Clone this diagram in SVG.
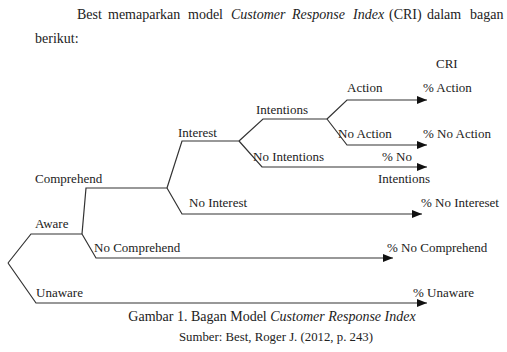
<svg xmlns="http://www.w3.org/2000/svg" width="507" height="352" viewBox="0 0 507 352">
<style>
text{font-family:"Liberation Serif","Times New Roman",serif;font-size:13px;fill:#222}
.big{font-size:14px}
.it{font-style:italic}
.ln{fill:none;stroke:#333;stroke-width:1.2}
</style>
<defs>
<marker id="ah" markerWidth="10" markerHeight="8" refX="10" refY="4" orient="auto" markerUnits="userSpaceOnUse">
<path d="M0,0 L10,4 L0,8 Z" fill="#111"/>
</marker>
</defs>
<rect width="507" height="352" fill="#fff"/>
<g id="intro">
<text class="big" y="19"><tspan x="77">Best</tspan><tspan x="108">memaparkan</tspan><tspan x="188">model</tspan><tspan x="231" class="it">Customer</tspan><tspan x="292" class="it">Response</tspan><tspan x="353" class="it">Index</tspan><tspan x="389">(CRI)</tspan><tspan x="427">dalam</tspan><tspan x="470">bagan</tspan></text>
<text class="big" x="35" y="43">berikut:</text>
</g>
<g id="connectors">
<path class="ln" d="M8,263 L31,234 L82,234"/>
<path class="ln" d="M8,263 L36,303 L427,303" marker-end="url(#ah)"/>
<path class="ln" d="M82,234 L86,188 L167,188"/>
<path class="ln" d="M82,234 L96,258 L393,258" marker-end="url(#ah)"/>
<path class="ln" d="M167,188 L182,141 L239,141"/>
<path class="ln" d="M167,188 L182,214 L422,214" marker-end="url(#ah)"/>
<path class="ln" d="M239,141 L263,119 L327,119"/>
<path class="ln" d="M239,141 L262,167 L427,167" marker-end="url(#ah)"/>
<path class="ln" d="M327,119 L347,100 L427,100" marker-end="url(#ah)"/>
<path class="ln" d="M327,119 L347,145 L427,145" marker-end="url(#ah)"/>
</g>
<g id="cri"><text x="436" y="68">CRI</text></g>
<g id="aware"><text x="35" y="228">Aware</text></g>
<g id="unaware"><text x="36" y="297">Unaware</text></g>
<g id="comprehend"><text x="35" y="183">Comprehend</text></g>
<g id="no-comprehend"><text x="94" y="252">No Comprehend</text></g>
<g id="interest"><text x="178" y="137">Interest</text></g>
<g id="no-interest"><text x="189" y="207">No Interest</text></g>
<g id="intentions"><text x="256" y="114">Intentions</text></g>
<g id="no-intentions"><text x="253" y="161">No Intentions</text></g>
<g id="action"><text x="347" y="92">Action</text></g>
<g id="no-action"><text x="338" y="138">No Action</text></g>
<g id="pct-action"><text x="423" y="92">% Action</text></g>
<g id="pct-no-action"><text x="423" y="138">% No Action</text></g>
<g id="pct-no-intentions"><text x="382" y="161">% No</text><text x="378" y="183">Intentions</text></g>
<g id="pct-no-interest"><text x="421" y="207">% No Intereset</text></g>
<g id="pct-no-comprehend"><text x="387" y="252">% No Comprehend</text></g>
<g id="pct-unaware"><text x="413" y="297">% Unaware</text></g>
<g id="caption">
<text class="big" x="272" y="321" text-anchor="middle">Gambar 1. Bagan Model <tspan class="it">Customer Response Index</tspan></text>
<text x="276" y="341" text-anchor="middle" style="font-size:12.8px">Sumber: Best, Roger J. (2012, p. 243)</text>
</g>
</svg>
